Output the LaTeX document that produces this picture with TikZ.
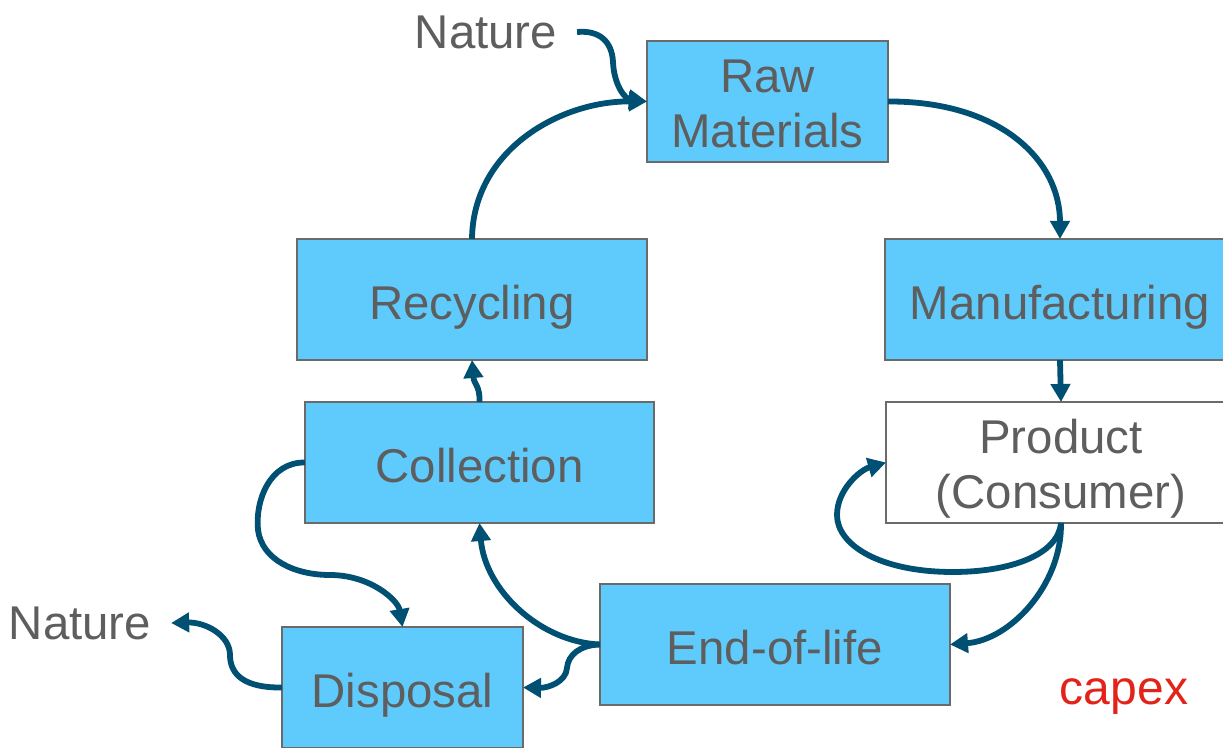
\documentclass[tikz,border=0pt]{standalone}
\usepackage{fontspec}
\setmainfont{Liberation Sans}
\usetikzlibrary{arrows.meta}
\definecolor{boxfill}{HTML}{5FCBFD}
\definecolor{boxline}{HTML}{6A6A6A}
\definecolor{txt}{HTML}{5E5E5E}
\definecolor{flow}{HTML}{005073}
\definecolor{capexred}{HTML}{E2231A}
\tikzset{
  stagebox/.style={draw=boxline, line width=1pt, fill=boxfill, text=txt,
    minimum height=60.5pt, inner sep=0pt, outer sep=0pt, align=center,
    font=\fontsize{23.7}{27.7}\selectfont, text height=25pt, text depth=5pt},
  twolines/.style={text height=50pt, text depth=3.6pt},
  wide/.style={minimum width=175pt},
  narrow/.style={minimum width=120.5pt},
  plainlabel/.style={text=txt, inner xsep=10pt, inner ysep=0pt, outer sep=0pt,
    font=\fontsize{23.7}{27}\selectfont},
  flowline/.style={draw=flow, line width=2.9pt,
    -{Triangle[length=9pt,width=9.5pt]}}
}
\begin{document}
\begin{tikzpicture}[x=0.5pt, y=-0.5pt]
\useasboundingbox (0,0) rectangle (1223,748);

% stages of the life cycle
\node[stagebox, narrow, twolines] (raw)  at (767.5,101.5) {Raw\\Materials};
\node[stagebox, wide]   (manu) at (1060,299.5) {Manufacturing};
\node[stagebox, wide, twolines, fill=white] (prod) at (1061,462.5) {Product\\(Consumer)};
\node[stagebox, wide]   (rec)  at (472,299.5) {Recycling};
\node[stagebox, wide, minimum width=174.5pt] (coll) at (479.5,462.5) {Collection};
\node[stagebox, wide]   (eol)  at (775,644.5) {End-of-life};
\node[stagebox, narrow] (disp) at (402.5,687.5) {Disposal};

% sources and sinks
\node[plainlabel] (natin)  at (486,32) {Nature};
\node[plainlabel] (natout) at (80,623) {Nature};
\node[text=capexred, font=\fontsize{24}{27}\selectfont] (capex) at (1124,697) {capex};

% flows
\draw[flowline] (natin.east) .. controls (600,30) and (612,42) .. (613,62)
  .. controls (614,85) and (625,99) .. (raw.west);
\draw[flowline] (rec.north) .. controls (473,150) and (560,101) .. (raw.west);
\draw[flowline] (raw.east) .. controls (1000,101) and (1060,160) .. (manu.north);
\draw[flowline] (manu.south) -- (prod.north);
\draw[flowline] (prod.south) .. controls (1058,555) and (1010,572) .. (953,572)
  .. controls (880,572) and (837,545) .. (837,515)
  .. controls (837,490) and (860,470) .. (prod.west);
\draw[flowline] (prod.south) .. controls (1062,585) and (1010,640) .. (eol.east);
\draw[flowline] (eol.west) .. controls (540,642) and (485,590) .. (coll.south);
\draw[flowline] (eol.west) .. controls (580,645) and (568,655) .. (567,668)
  .. controls (566,682) and (548,688) .. (disp.east);
\draw[flowline] (coll.west) .. controls (270,462) and (255,500) .. (258,530)
  .. controls (262,560) and (295,575) .. (330,575)
  .. controls (370,575) and (398,600) .. (disp.north);
\draw[flowline] (disp.west) .. controls (245,688) and (230,675) .. (230,655)
  .. controls (230,635) and (205,622) .. (natout.east);
\draw[flowline] (coll.north) .. controls (480,385) and (474,385) .. (rec.south);
\end{tikzpicture}
\end{document}
